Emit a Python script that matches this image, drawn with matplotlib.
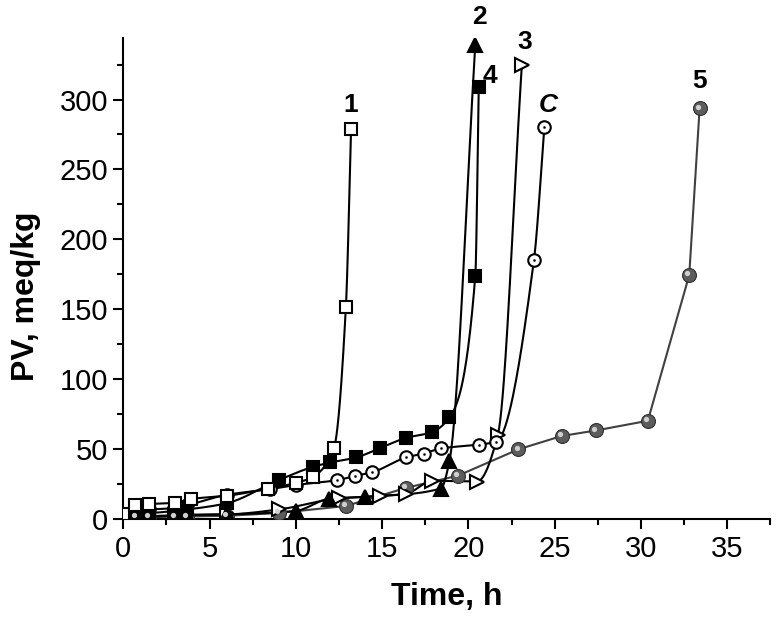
import numpy as np
import matplotlib
matplotlib.use("Agg")
import matplotlib.pyplot as plt
import matplotlib.transforms as mtransforms

plt.rcParams['font.family'] = ['Liberation Sans', 'DejaVu Sans']

# ---- data ----
t1 = [0.0, 0.7, 1.5, 3.0, 3.9, 6.0, 8.4, 10.0, 11.0, 12.2, 12.9, 13.2]
pv1 = [3.5, 10.2, 10.9, 11.8, 14.5, 16.8, 22.0, 26.0, 30.5, 50.6, 152.0, 279.0]

t2 = [0.7, 1.5, 3.0, 3.7, 6.0, 10.0, 11.9, 14.0, 18.4, 18.9, 20.4]
pv2 = [2.0, 2.0, 2.5, 3.0, 3.5, 6.0, 14.5, 16.1, 22.0, 41.5, 339.0]

t3 = [0.7, 1.5, 3.0, 3.7, 6.0, 9.0, 12.5, 14.9, 16.4, 17.9, 20.5, 21.7, 23.1]
pv3 = [2.0, 2.2, 3.0, 3.2, 3.5, 7.0, 15.0, 16.6, 18.2, 27.5, 27.0, 60.0, 325.0]

t4 = [0.7, 1.5, 3.0, 3.7, 6.0, 9.0, 11.0, 12.0, 13.5, 14.9, 16.4, 17.9, 18.9, 20.4, 20.6]
pv4 = [4.3, 4.5, 6.0, 7.0, 11.5, 28.0, 37.5, 40.6, 44.2, 51.0, 58.2, 62.4, 72.8, 174.0, 309.0]

tC = [0.7, 1.5, 3.0, 3.7, 6.0, 8.5, 10.0, 12.4, 13.4, 14.4, 16.4, 17.4, 18.4, 20.6, 21.6, 23.8, 24.4]
pvC = [6.0, 7.0, 8.0, 10.0, 17.5, 21.5, 24.5, 28.0, 30.9, 33.5, 44.2, 47.0, 50.6, 53.4, 55.3, 185.5, 280.0]

t5 = [0.7, 1.5, 3.0, 3.7, 6.0, 9.0, 12.9, 16.4, 19.4, 22.9, 25.4, 27.4, 30.4, 32.8, 33.4]
pv5 = [1.5, 1.5, 2.0, 2.0, 2.5, 4.5, 9.5, 22.5, 31.2, 50.0, 59.5, 63.5, 70.4, 174.6, 293.6]

labels = ['1', '2', '3', '4', 'C', '5']


def pchip_curve(x, y, n=40):
    x = np.asarray(x, float)
    y = np.asarray(y, float)
    h = np.diff(x)
    d = np.diff(y) / h
    m = np.zeros_like(x)
    m[0], m[-1] = d[0], d[-1]
    for k in range(1, len(x) - 1):
        if d[k - 1] * d[k] <= 0:
            m[k] = 0.0
        else:
            w1 = 2 * h[k] + h[k - 1]
            w2 = h[k] + 2 * h[k - 1]
            m[k] = (w1 + w2) / (w1 / d[k - 1] + w2 / d[k])
    xs, ys = [], []
    for k in range(len(x) - 1):
        s = np.linspace(0, 1, n, endpoint=False)
        h00 = 2 * s**3 - 3 * s**2 + 1
        h10 = s**3 - 2 * s**2 + s
        h01 = -2 * s**3 + 3 * s**2
        h11 = s**3 - s**2
        xs.append(x[k] + s * h[k])
        ys.append(h00 * y[k] + h10 * h[k] * m[k] + h01 * y[k + 1] + h11 * h[k] * m[k + 1])
    xs.append([x[-1]])
    ys.append([y[-1]])
    return np.concatenate(xs), np.concatenate(ys)


fig = plt.figure(figsize=(7.82, 6.28), dpi=100)
ax = fig.add_axes([0.1577, 0.1731, 0.8274, 0.7665])

lw = 1.5
mew = 1.5

# series 5: gray spheres, straight segments
ax.plot(t5, pv5, '-', color='#404040', lw=lw, zorder=2)
ax.plot(t5, pv5, 'o', ms=10, mfc='#5c5c5c', mec='#2e2e2e', mew=0.8, zorder=3)
hl = mtransforms.offset_copy(ax.transData, fig=fig, x=-1.3, y=1.3, units='points')
ax.plot(t5, pv5, 'o', ms=3.8, mfc='#cfcfcf', mec='none', transform=hl, zorder=3.1)

# series 3: open right triangles
x, y = pchip_curve(t3, pv3)
ax.plot(x, y, '-', color='black', lw=lw, zorder=2)
ax.plot(t3, pv3, '>', ms=9.5, mfc='white', mec='black', mew=mew, zorder=3)

# series 2: filled triangles
x, y = pchip_curve(t2, pv2)
ax.plot(x, y, '-', color='black', lw=lw, zorder=2)
ax.plot(t2, pv2, '^', ms=10, mfc='black', mec='black', mew=mew, zorder=3)

# series C: open circles with centre dot
x, y = pchip_curve(tC, pvC)
ax.plot(x, y, '-', color='black', lw=lw, zorder=2)
ax.plot(tC, pvC, 'o', ms=9, mfc='white', mec='black', mew=mew, zorder=3)
ax.plot(tC, pvC, 'o', ms=1.5, mfc='black', mec='black', mew=0.3, zorder=3.1)

# series 4: filled squares
x, y = pchip_curve(t4, pv4)
ax.plot(x, y, '-', color='black', lw=lw, zorder=2)
ax.plot(t4, pv4, 's', ms=8.5, mfc='black', mec='black', mew=mew, zorder=3)

# series 1: open squares
x, y = pchip_curve(t1, pv1)
ax.plot(x, y, '-', color='black', lw=lw, zorder=2)
ax.plot(t1, pv1, 's', ms=8.5, mfc='white', mec='black', mew=mew, zorder=3.2)

# curve labels next to last points
ends = [(t1[-1], pv1[-1]), (t2[-1], pv2[-1]), (t3[-1], pv3[-1]),
        (t4[-1], pv4[-1]), (tC[-1], pvC[-1]), (t5[-1], pv5[-1])]
offsets = [(0, 17), (3, 20), (2, 16), (8, 8), (3, 16), (0, 20)]
for lab, (tx, ty), off in zip(labels, ends, offsets):
    ax.annotate(lab, (tx, ty), xytext=off, textcoords='offset points',
                ha='center', va='center', fontsize=19, fontweight='bold',
                fontstyle='italic' if lab == 'C' else 'normal',
                annotation_clip=False, zorder=5)

ax.set_xlim(0, 37.5)
ax.set_ylim(0, 344)
ax.set_xticks(np.arange(0, 36, 5))
ax.set_xticks(np.arange(0, 37.6, 2.5), minor=True)
ax.set_yticks(np.arange(0, 301, 50))
ax.set_yticks(np.arange(0, 344, 25), minor=True)

for s in ['top', 'right']:
    ax.spines[s].set_visible(False)
for s in ['left', 'bottom']:
    ax.spines[s].set_linewidth(1.5)

ax.tick_params(which='major', direction='out', length=7, width=1.5, labelsize=21, pad=4)
ax.tick_params(which='minor', direction='out', length=4, width=1.5)

ax.set_xlabel('Time, h', fontsize=23, fontweight='bold', labelpad=14)
ax.set_ylabel('PV, meq/kg', fontsize=23, fontweight='bold')
ax.yaxis.set_label_coords(-0.128, 0.464)

fig.savefig('out.png', dpi=100)
